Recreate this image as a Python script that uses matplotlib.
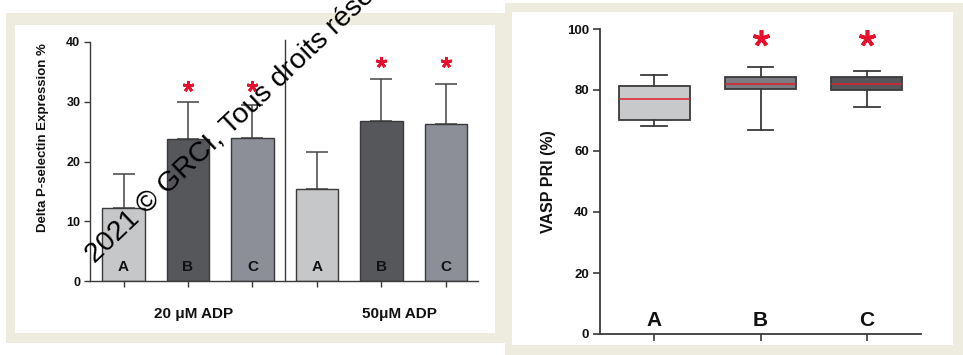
import matplotlib
matplotlib.use('Agg')
import matplotlib.pyplot as plt
from matplotlib.patches import Rectangle
import numpy as np

W, H = 963, 355
plt.rcParams['font.family'] = ['Liberation Sans', 'DejaVu Sans']
plt.rcParams['font.weight'] = 'bold'

# ---- Left panel data (bar chart) ----
group_labels = ['20 μM ADP', '50μM ADP']
bar_labels = ['A', 'B', 'C', 'A', 'B', 'C']
bar_means = [12.2, 23.8, 23.9, 15.4, 26.8, 26.2]
bar_sd = [5.7, 6.2, 5.6, 6.2, 7.0, 6.7]
bar_colors = ['#c6c7c9', '#55575b', '#8d8f98', '#c6c7c9', '#55575b', '#8d8f98']
left_star_y = [None, 32.6, 32.6, None, 36.7, 36.7]
left_yticks = [0, 10, 20, 30, 40]

# ---- Right panel data (box plot) ----
box_labels = ['A', 'B', 'C']
box_q1 = [70.0, 80.4, 80.1]
box_med = [77.2, 81.9, 81.9]
box_q3 = [81.4, 84.2, 84.2]
box_lo = [68.2, 66.9, 74.4]
box_hi = [84.9, 87.5, 86.3]
box_colors = ['#c8c9cb', '#7b7d83', '#55575b']
right_star_y = [None, 97, 97]
right_yticks = [0, 20, 40, 60, 80, 100]

BEIGE = '#eeebdf'
AX = '#3a3a3a'

fig = plt.figure(figsize=(W / 100, H / 100), dpi=100)
fig.patch.set_facecolor('white')


def px_rect(x0, y0, x1, y1, color, z=-10):
    fig.add_artist(Rectangle((x0 / W, 1 - y1 / H), (x1 - x0) / W, (y1 - y0) / H,
                             transform=fig.transFigure, facecolor=color,
                             edgecolor='none', zorder=z))


# frames
px_rect(6, 13, 505, 343, BEIGE)
px_rect(15, 25, 495, 333, 'white', -9)
px_rect(505, 3, 963, 355, BEIGE)
px_rect(512, 12, 953, 345, 'white', -9)

# ---- Left axes ----
ax1 = fig.add_axes([90 / W, 1 - 281 / H, 388 / W, 239 / H])
ax1.set_facecolor('none')
xpos = np.arange(len(bar_means))
ax1.errorbar(xpos, bar_means, yerr=[np.zeros(len(bar_sd)), bar_sd], fmt='none',
             ecolor='#444444', elinewidth=1.1, capsize=8, capthick=1.1, zorder=1)
ax1.bar(xpos, bar_means, width=0.66, color=bar_colors, edgecolor=AX,
        linewidth=1, zorder=2)
for x, lab in zip(xpos, bar_labels):
    ax1.text(x, 2.3, lab, ha='center', va='center', fontsize=11,
             fontweight='bold', color='#111111', zorder=3)
for x, sy in zip(xpos, left_star_y):
    if sy is not None:
        ax1.plot([x], [sy], marker=(5, 2, 0), markersize=8, mew=2,
                 color='#e8112d', zorder=3)
ax1.plot([2.5, 2.5], [0, 40.3], color=AX, lw=1, clip_on=False, zorder=2)
ax1.set_xlim(-0.52, 5.5)
ax1.set_ylim(0, 40)
ax1.set_yticks(left_yticks)
ax1.set_xticks(xpos)
ax1.set_xticklabels([])
for s in ['top', 'right']:
    ax1.spines[s].set_visible(False)
for s in ['left', 'bottom']:
    ax1.spines[s].set_color(AX)
    ax1.spines[s].set_linewidth(1)
ax1.tick_params(axis='both', colors=AX, width=1, length=4, labelsize=9)
ax1.tick_params(axis='y', labelcolor='#111111', pad=3)
for i, g in enumerate(group_labels):
    ax1.text([1.08, 4.28][i], -0.138, g, transform=ax1.get_xaxis_transform(),
             ha='center', va='center', fontsize=11, fontweight='bold', color='#111111')
fig.text(43 / W, 1 - 138 / H, 'Delta P-selectin Expression %', rotation=90,
         ha='center', va='center', fontsize=9.5, fontweight='bold', color='#111111')

# ---- Right axes ----
ax2 = fig.add_axes([600 / W, 1 - 334 / H, 321 / W, 305 / H])
ax2.set_facecolor('none')
stats = []
for i in range(3):
    stats.append(dict(med=box_med[i], q1=box_q1[i], q3=box_q3[i],
                      whislo=box_lo[i], whishi=box_hi[i], fliers=[]))
bp = ax2.bxp(stats, positions=[1, 2, 3], widths=0.67, capwidths=0.24,
             patch_artist=True, showfliers=False,
             boxprops=dict(edgecolor=AX, linewidth=1.3),
             whiskerprops=dict(color=AX, linewidth=1.3),
             capprops=dict(color=AX, linewidth=1.3),
             medianprops=dict(color='#e0202a', linewidth=1.1))
for patch, c in zip(bp['boxes'], box_colors):
    patch.set_facecolor(c)
for i, lab in enumerate(box_labels):
    ax2.text(i + 1, 4.4, lab, ha='center', va='center', fontsize=15,
             fontweight='bold', color='#111111')
for i, sy in enumerate(right_star_y):
    if sy is not None:
        ax2.plot([i + 1], [sy], marker=(5, 2, 0), markersize=12, mew=2.6,
                 color='#e8112d', zorder=3)
ax2.set_xlim(0.49, 3.51)
ax2.set_ylim(0, 100)
ax2.set_yticks(right_yticks)
ax2.set_xticks([1, 2, 3])
ax2.set_xticklabels([])
for s in ['top', 'right']:
    ax2.spines[s].set_visible(False)
for s in ['left', 'bottom']:
    ax2.spines[s].set_color(AX)
    ax2.spines[s].set_linewidth(1.3)
ax2.tick_params(axis='both', colors=AX, width=1.2, length=5, labelsize=9.5)
ax2.tick_params(axis='y', labelcolor='#111111', pad=3)
ax2.set_ylabel('VASP PRI (%)', fontsize=11.5, fontweight='bold', color='#111111',
               labelpad=8)

# watermark text (runs off the top edge, as in the reference)
fig.text(95 / W, 1 - 263 / H, '2021 © GRCI, Tous droits réservés', rotation=43.5,
         rotation_mode='anchor', ha='left', va='baseline', fontsize=20.5,
         fontweight='normal', color='black', zorder=20)

fig.savefig('out.png', dpi=100, facecolor='white')
